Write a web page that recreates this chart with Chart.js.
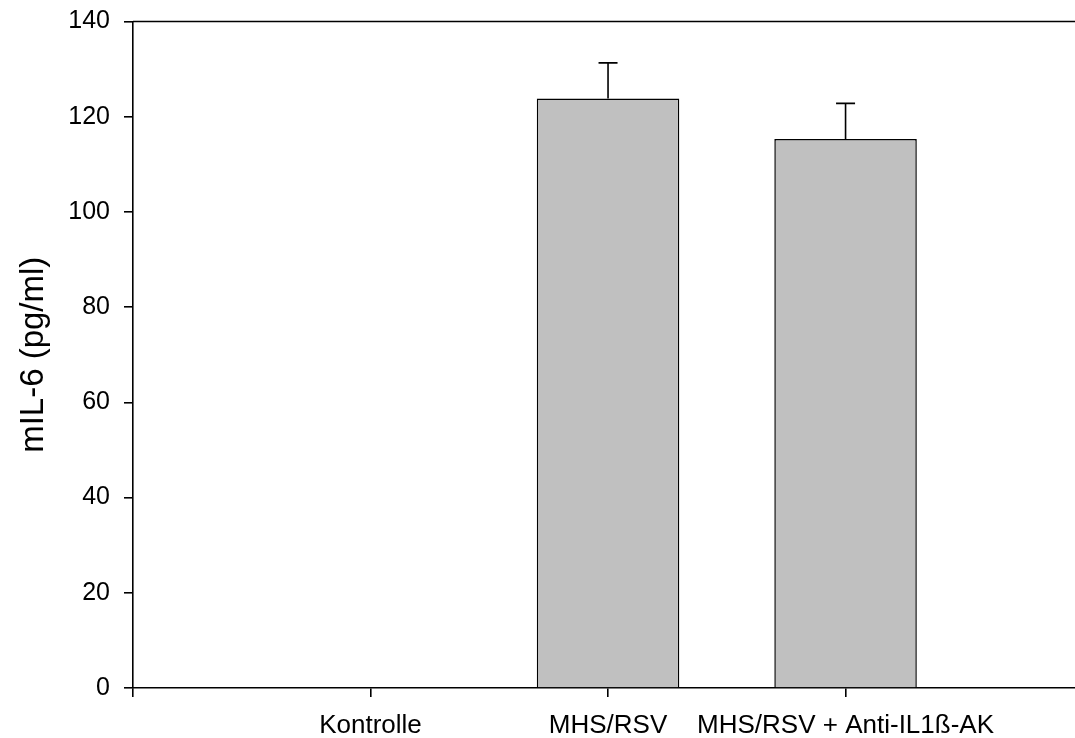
<!DOCTYPE html>
<html>
<head>
<meta charset="utf-8">
<script src="https://cdn.jsdelivr.net/npm/chart.js@4"></script>
<style>
  html, body { margin: 0; padding: 0; background: #fff; overflow: hidden; }
  #wrap { width: 1075px; height: 738px; position: relative; }
</style>
</head>
<body>
<div id="wrap"><canvas id="c" width="1075" height="738"></canvas></div>
<script>
// Group names, their positions on the x axis, means and error (upper SD)
const categories = ['Kontrolle', 'MHS/RSV', 'MHS/RSV + Anti-IL1ß-AK'];
const positions = [1, 2, 3];
const means = [0, 123.8, 115.3];
const errors = [0, 7.5, 7.5];
const yTicks = [0, 20, 40, 60, 80, 100, 120, 140];

const FONT = '"Liberation Sans", Arial, sans-serif';
const points = positions.map((p, i) => ({ x: p, y: means[i] }));

// Upper error whiskers with a short cap, drawn through the chart scales
const errorBars = {
  id: 'errorBars',
  afterDatasetsDraw(chart) {
    const { ctx } = chart;
    const xs = chart.scales.x, ys = chart.scales.y;
    ctx.save();
    ctx.strokeStyle = '#000';
    ctx.lineWidth = 1.6;
    positions.forEach((p, i) => {
      if (!errors[i]) return;
      const x = xs.getPixelForValue(p);
      const y0 = ys.getPixelForValue(means[i]);
      const y1 = ys.getPixelForValue(means[i] + errors[i]);
      ctx.beginPath();
      ctx.moveTo(x, y0);
      ctx.lineTo(x, y1);
      ctx.moveTo(x - 9.5, y1);
      ctx.lineTo(x + 9.5, y1);
      ctx.stroke();
    });
    ctx.restore();
  }
};

// Top frame line across the plot
const topFrame = {
  id: 'topFrame',
  afterDraw(chart) {
    const { ctx, chartArea } = chart;
    ctx.save();
    ctx.strokeStyle = '#000';
    ctx.lineWidth = 1.6;
    ctx.beginPath();
    ctx.moveTo(chartArea.left, chartArea.top);
    ctx.lineTo(chart.width, chartArea.top);
    ctx.stroke();
    ctx.restore();
  }
};

new Chart(document.getElementById('c'), {
  type: 'bar',
  data: {
    datasets: [{
      data: points,
      backgroundColor: '#c0c0c0',
      borderColor: '#000',
      borderWidth: 1.5,
      borderSkipped: 'bottom',
      barPercentage: 0.6,
      categoryPercentage: 1.0
    }]
  },
  plugins: [errorBars, topFrame],
  options: {
    responsive: false,
    animation: false,
    devicePixelRatio: 1,
    layout: { padding: { top: 21, right: 0, left: 0, bottom: 0 } },
    plugins: { legend: { display: false }, tooltip: { enabled: false } },
    scales: {
      x: {
        type: 'linear',
        min: 0,
        max: 3.966,
        offset: false,
        afterBuildTicks: (s) => { s.ticks = [0].concat(positions).map(v => ({ value: v })); },
        afterFit: (s) => { s.height = 50; },
        grid: { display: true, offset: false, drawOnChartArea: false, drawTicks: true, tickLength: 9, color: '#000', lineWidth: 1.6 },
        border: { display: true, color: '#000', width: 1.6 },
        ticks: {
          autoSkip: false,
          maxRotation: 0,
          padding: 13,
          color: '#000',
          font: { family: FONT, size: 26 },
          callback: (v) => { const i = positions.indexOf(v); return i >= 0 ? categories[i] : ''; }
        }
      },
      y: {
        min: 0,
        max: 140,
        afterBuildTicks: (s) => { s.ticks = yTicks.map(v => ({ value: v })); },
        afterFit: (s) => { s.width = 133; },
        grid: { display: true, drawOnChartArea: false, drawTicks: true, tickLength: 9, color: '#000', lineWidth: 1.6 },
        border: { display: true, color: '#000', width: 1.6 },
        ticks: { padding: 14, color: '#000', font: { family: FONT, size: 25, lineHeight: 0.6 } },
        title: {
          display: true,
          text: 'mIL-6 (pg/ml)',
          color: '#000',
          font: { family: FONT, size: 33 },
          padding: { top: 14, bottom: 0 }
        }
      }
    }
  }
});
</script>
</body>
</html>
